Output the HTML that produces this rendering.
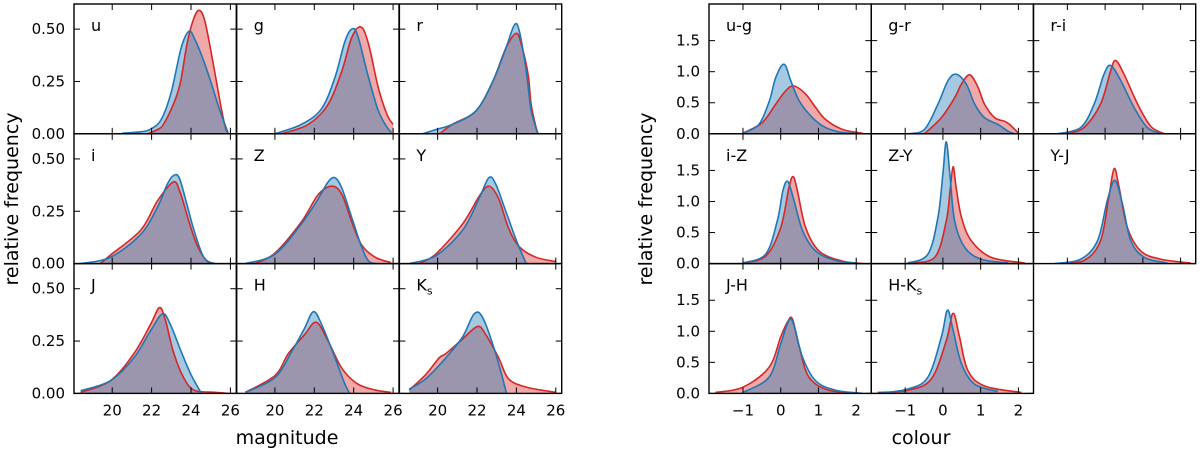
<!DOCTYPE html>
<html><head><meta charset="utf-8"><style>
html,body{margin:0;padding:0;background:#fff;}
svg{display:block;font-family:"DejaVu Sans","Liberation Sans",sans-serif;}
</style></head><body>
<svg id="fig" width="1200" height="451" viewBox="0 0 1200 451" xmlns="http://www.w3.org/2000/svg"></svg>
<script>
// ---- magnitude histograms (x = magnitude, y = relative frequency) ----
const uBlue=[[20.5,0.003],[21.5,0.01],[22,0.025],[22.5,0.07],[23,0.2],[23.5,0.41],[23.9,0.49],[24.2,0.45],[24.6,0.36],[25,0.25],[25.4,0.13],[25.7,0.05],[25.9,0]];
const uRed=[[21.8,0],[22.3,0.02],[22.6,0.045],[23.1,0.14],[23.45,0.24],[23.8,0.43],[24.1,0.54],[24.4,0.59],[24.7,0.54],[25.1,0.35],[25.5,0.14],[25.75,0.03],[25.9,0]];
const gBlue=[[20,0],[21.35,0.045],[22.37,0.12],[23.05,0.27],[23.55,0.44],[23.9,0.5],[24.2,0.47],[24.75,0.27],[25.25,0.11],[25.7,0.03],[25.93,0.005]];
const gRed=[[20.35,0],[21.7,0.045],[22.7,0.14],[23.4,0.3],[23.9,0.46],[24.37,0.51],[24.75,0.43],[25.25,0.22],[25.7,0.09],[26,0.045]];
const rBlue=[[19.24,0],[19.9,0.02],[20.75,0.045],[21.95,0.11],[22.8,0.25],[23.47,0.41],[23.9,0.52],[24.15,0.49],[24.5,0.3],[24.75,0.11],[25.1,0]];
const rRed=[[20.1,0],[20.75,0.045],[21.95,0.11],[22.8,0.25],[23.47,0.41],[24,0.48],[24.3,0.41],[24.6,0.28],[24.75,0.14],[25,0.03],[25.1,0]];
const iBlue=[[18.4,0],[19.9,0.03],[21.45,0.14],[22.3,0.27],[22.8,0.38],[23.1,0.42],[23.4,0.41],[23.8,0.28],[24.15,0.16],[24.65,0.03],[25.2,0]];
const iRed=[[19.4,0],[19.9,0.04],[21.45,0.16],[22.3,0.3],[23.1,0.39],[23.45,0.34],[23.9,0.2],[24.3,0.09],[24.8,0.013],[25.2,0]];
const zBlue=[[18.5,0],[20,0.045],[21.35,0.19],[22.2,0.31],[22.7,0.39],[23.05,0.41],[23.4,0.36],[23.9,0.22],[24.4,0.08],[24.75,0.013],[25.1,0]];
const zRed=[[19,0],[20,0.05],[21.35,0.2],[22.2,0.33],[22.9,0.37],[23.4,0.33],[23.9,0.2],[24.4,0.09],[25.1,0.03],[25.9,0.005]];
const yBlue=[[18.56,0],[19.9,0.037],[21.27,0.16],[22.1,0.31],[22.6,0.41],[22.95,0.38],[23.5,0.24],[24,0.11],[24.5,0]];
const yRed=[[19.07,0],[19.9,0.045],[21.27,0.19],[22.1,0.32],[22.6,0.37],[23.1,0.31],[23.6,0.17],[24.15,0.08],[25,0.03],[26,0.01]];
const jBlue=[[18.4,0.013],[19.9,0.06],[21.1,0.17],[21.95,0.3],[22.55,0.38],[22.95,0.33],[23.5,0.2],[24,0.09],[24.5,0.005]];
const jRed=[[18.4,0.005],[19.9,0.06],[21.1,0.19],[21.95,0.33],[22.4,0.41],[22.7,0.35],[23.1,0.2],[23.6,0.08],[24.15,0.016],[25.2,0.005],[25.9,0]];
const hBlue=[[18.5,0.005],[20,0.075],[20.85,0.2],[21.5,0.31],[21.95,0.39],[22.37,0.33],[23.05,0.17],[23.55,0.045],[23.8,0]];
const hRed=[[18.5,0.005],[20,0.085],[20.68,0.19],[21.5,0.28],[22.1,0.34],[22.7,0.25],[23.4,0.12],[24.2,0.045],[25.1,0.016],[25.9,0.005]];
const kBlue=[[18.56,0.02],[19.4,0.07],[20.42,0.17],[21.27,0.27],[21.86,0.38],[22.3,0.36],[22.95,0.19],[23.5,0]];
const kRed=[[18.56,0.016],[19.4,0.09],[20.08,0.17],[20.42,0.19],[21.27,0.26],[22.03,0.32],[22.45,0.28],[23.1,0.17],[23.6,0.07],[24.5,0.03],[26,0.005]];
// ---- colour distributions (x = colour, y = relative frequency) ----
const ugBlue=[[-1,0.01],[-0.58,0.15],[-0.3,0.53],[-0.13,0.91],[0.09,1.12],[0.27,0.85],[0.49,0.53],[0.84,0.26],[1.19,0.1],[1.64,0.02],[2.2,0]];
const ugRed=[[-1,0.01],[-0.49,0.18],[-0.13,0.48],[0.13,0.69],[0.35,0.77],[0.66,0.64],[0.93,0.42],[1.19,0.23],[1.64,0.07],[2.17,0.01]];
const grBlue=[[-0.93,0],[-0.49,0.07],[-0.13,0.48],[0.13,0.85],[0.35,0.96],[0.62,0.8],[0.84,0.48],[1.1,0.26],[1.46,0.15],[1.73,0.04],[1.9,0]];
const grRed=[[-0.49,0],[-0.04,0.26],[0.31,0.58],[0.49,0.8],[0.71,0.95],[0.93,0.75],[1.1,0.48],[1.37,0.26],[1.64,0.2],[1.77,0.15],[2,0.01]];
const riBlue=[[-1.27,0],[-0.65,0.1],[-0.29,0.48],[-0.03,0.96],[0.15,1.1],[0.42,0.85],[0.77,0.42],[1.12,0.1],[1.48,0]];
const riRed=[[-1,0],[-0.56,0.1],[-0.12,0.48],[0.15,1.02],[0.28,1.18],[0.5,0.96],[0.86,0.48],[1.21,0.12],[1.57,0]];
const izBlue=[[-1,0.01],[-0.4,0.15],[-0.09,0.69],[0.06,1.18],[0.19,1.32],[0.35,1.02],[0.58,0.53],[0.93,0.2],[1.46,0.05],[2,0.01]];
const izRed=[[-1,0.01],[-0.4,0.12],[0,0.58],[0.22,1.23],[0.33,1.4],[0.44,1.18],[0.66,0.58],[1.02,0.2],[1.64,0.04],[2.17,0]];
const zyBlue=[[-0.93,0.01],[-0.4,0.15],[-0.13,0.75],[0,1.45],[0.09,1.96],[0.19,1.4],[0.31,0.69],[0.58,0.26],[1.02,0.07],[1.73,0.01]];
const zyRed=[[-0.93,0.01],[-0.22,0.1],[0.09,0.69],[0.19,1.18],[0.27,1.56],[0.35,1.23],[0.49,0.75],[0.75,0.37],[1.28,0.1],[2.17,0.01]];
const yjBlue=[[-1.35,0],[-0.65,0.07],[-0.2,0.37],[0.06,1.02],[0.26,1.34],[0.46,0.96],[0.68,0.37],[1.04,0.1],[1.65,0.01]];
const yjRed=[[-1.27,0],[-0.56,0.05],[-0.12,0.37],[0.1,1.08],[0.24,1.53],[0.37,1.23],[0.59,0.58],[0.95,0.2],[1.48,0.07],[2.27,0.01]];
const jhBlue=[[-1,0.015],[-0.31,0.26],[0,0.8],[0.22,1.18],[0.35,1.1],[0.58,0.58],[0.93,0.2],[1.46,0.05],[2.17,0]];
const jhRed=[[-1.73,0.015],[-1,0.1],[-0.31,0.42],[0,0.91],[0.18,1.15],[0.31,1.2],[0.49,0.75],[0.75,0.26],[1.28,0.05],[2,0.01]];
const hkBlue=[[-1.73,0],[-0.93,0.07],[-0.4,0.26],[-0.04,0.91],[0.12,1.34],[0.27,1.02],[0.49,0.48],[0.84,0.15],[1.46,0.03]];
const hkRed=[[-1.73,0.015],[-0.93,0.05],[-0.31,0.23],[0.09,0.85],[0.27,1.29],[0.44,0.91],[0.66,0.37],[1.1,0.12],[2.08,0.015]];
// ---- tick labels ----
const magTicks=[20,22,24,26];
const magYTicks=[0,0.25,0.5];
const magYLabels=["0.00","0.25","0.50"];
const colTicks=[-1,0,1,2];
const colTickLabels=["\u22121","0","1","2"];
const colYTicks=[0,0.5,1,1.5];
const colYLabels=["0.0","0.5","1.0","1.5"];

const NS="http://www.w3.org/2000/svg";
const svg=document.getElementById('fig');
function mk(tag,attrs,parent){const e=document.createElementNS(NS,tag);for(const k in attrs)e.setAttribute(k,attrs[k]);(parent||svg).appendChild(e);return e;}

const magDomain=[18.06,26.3], magY=[0,0.62];
const colDomain=[-1.9,2.4], colY=[0,2.09];
const LX=[74,236.7,399.4], RX=[709,871.2,1033.4], ROWS=[4,133.8,263.6], PW=162.3, PH=129.8;

const panels=[
 {name:'u',x:LX[0],y:ROWS[0],b:uBlue,r:uRed,t:'mag',col:0,row:0},
 {name:'g',x:LX[1],y:ROWS[0],b:gBlue,r:gRed,t:'mag',col:1,row:0},
 {name:'r',x:LX[2],y:ROWS[0],b:rBlue,r:rRed,t:'mag',col:2,row:0},
 {name:'i',x:LX[0],y:ROWS[1],b:iBlue,r:iRed,t:'mag',col:0,row:1},
 {name:'Z',x:LX[1],y:ROWS[1],b:zBlue,r:zRed,t:'mag',col:1,row:1},
 {name:'Y',x:LX[2],y:ROWS[1],b:yBlue,r:yRed,t:'mag',col:2,row:1},
 {name:'J',x:LX[0],y:ROWS[2],b:jBlue,r:jRed,t:'mag',col:0,row:2},
 {name:'H',x:LX[1],y:ROWS[2],b:hBlue,r:hRed,t:'mag',col:1,row:2},
 {name:'K',sub:'s',x:LX[2],y:ROWS[2],b:kBlue,r:kRed,t:'mag',col:2,row:2},
 {name:'u-g',x:RX[0],y:ROWS[0],b:ugBlue,r:ugRed,t:'col',col:0,row:0},
 {name:'g-r',x:RX[1],y:ROWS[0],b:grBlue,r:grRed,t:'col',col:1,row:0},
 {name:'r-i',x:RX[2],y:ROWS[0],b:riBlue,r:riRed,t:'col',col:2,row:0},
 {name:'i-Z',x:RX[0],y:ROWS[1],b:izBlue,r:izRed,t:'col',col:0,row:1},
 {name:'Z-Y',x:RX[1],y:ROWS[1],b:zyBlue,r:zyRed,t:'col',col:1,row:1},
 {name:'Y-J',x:RX[2],y:ROWS[1],b:yjBlue,r:yjRed,t:'col',col:2,row:1,bottom:true},
 {name:'J-H',x:RX[0],y:ROWS[2],b:jhBlue,r:jhRed,t:'col',col:0,row:2},
 {name:'H-K',sub:'s',x:RX[1],y:ROWS[2],b:hkBlue,r:hkRed,t:'col',col:1,row:2}
];

function smoothPath(pts){
  let d='M'+pts[0][0].toFixed(2)+','+pts[0][1].toFixed(2);
  for(let i=0;i<pts.length-1;i++){
    const p0=pts[i-1]||pts[i],p1=pts[i],p2=pts[i+1],p3=pts[i+2]||p2;
    const c1=[p1[0]+(p2[0]-p0[0])/6,p1[1]+(p2[1]-p0[1])/6];
    const c2=[p2[0]-(p3[0]-p1[0])/6,p2[1]-(p3[1]-p1[1])/6];
    d+=' C'+c1[0].toFixed(2)+','+c1[1].toFixed(2)+' '+c2[0].toFixed(2)+','+c2[1].toFixed(2)+' '+p2[0].toFixed(2)+','+p2[1].toFixed(2);
  }
  return d;
}

panels.forEach((p,idx)=>{
  const dom=p.t==='mag'?magDomain:colDomain, yd=p.t==='mag'?magY:colY;
  const sx=v=>p.x+(v-dom[0])/(dom[1]-dom[0])*PW;
  const sy=v=>p.y+PH-(v-yd[0])/(yd[1]-yd[0])*PH;
  const g=mk('g',{});
  
  
  const cp=mk('clipPath',{id:'cp'+idx},g);
  mk('rect',{x:p.x,y:p.y,width:PW,height:PH},cp);
  const inner=mk('g',{'clip-path':'url(#cp'+idx+')'},g);
  const base=sy(0);
  [['red',p.r,'#d62728'],['blue',p.b,'#1f77b4']].forEach(([nm,data,c])=>{
    const pts=data.map(d=>[sx(d[0]),sy(d[1])]);
    const line=smoothPath(pts);
    const f=mk('path',{d:line+' L'+pts[pts.length-1][0].toFixed(2)+','+base+' L'+pts[0][0].toFixed(2)+','+base+' Z',fill:c,'fill-opacity':0.4,stroke:'none'},inner);
    
    
  });
  [['red',p.r,'#d62728'],['blue',p.b,'#1f77b4']].forEach(([nm,data,c])=>{
    const pts=data.map(d=>[sx(d[0]),sy(d[1])]);
    const l=mk('path',{d:smoothPath(pts),fill:'none',stroke:c,'stroke-width':1.6},inner);
    
    
  });
  // ticks
  const xt=p.t==='mag'?magTicks:colTicks, yt=p.t==='mag'?magYTicks:colYTicks;
  xt.forEach(v=>{const X=sx(v);mk('line',{x1:X,x2:X,y1:p.y+PH,y2:p.y+PH-6,stroke:'#000','stroke-width':1},g);mk('line',{x1:X,x2:X,y1:p.y,y2:p.y+6,stroke:'#000','stroke-width':1},g);});
  yt.forEach(v=>{const Y=sy(v);mk('line',{x1:p.x,x2:p.x+6,y1:Y,y2:Y,stroke:'#000','stroke-width':1},g);mk('line',{x1:p.x+PW,x2:p.x+PW-6,y1:Y,y2:Y,stroke:'#000','stroke-width':1},g);});
  const fr=mk('rect',{x:p.x,y:p.y,width:PW,height:PH,fill:'none',stroke:'#000','stroke-width':1.4},g);
  
  
  // panel label
  const lab=mk('text',{x:p.x+17,y:p.y+27,'font-size':16,fill:'#000'},g);
  
  
  lab.textContent=p.name;
  if(p.sub){const ts=mk('tspan',{'font-size':11,dy:4},lab);ts.textContent=p.sub;}
  // y tick labels
  if(p.col===0){
    const labs=p.t==='mag'?magYLabels:colYLabels;
    yt.forEach((v,k)=>{const t=mk('text',{x:p.x-9,y:sy(v)+5,'font-size':15,'text-anchor':'end',fill:'#000'},g);
      
      
      t.textContent=labs[k];});
  }
  if(p.row===2){
    const labs=p.t==='mag'?magTicks.map(String):colTickLabels;
    xt.forEach((v,k)=>{const t=mk('text',{x:sx(v),y:p.y+PH+22,'font-size':15,'text-anchor':'middle',fill:'#000'},g);
      
      
      t.textContent=labs[k];});
  }
});
</script>
<svg width="0" height="0"></svg>
<div style="position:absolute;left:0;top:0;width:1200px;height:451px;pointer-events:none;">
<svg width="1200" height="451" style="position:absolute;left:0;top:0;font-family:'DejaVu Sans','Liberation Sans',sans-serif;">
<text x="287" y="444" font-size="19" text-anchor="middle">magnitude</text>
<text x="921" y="444" font-size="19" text-anchor="middle">colour</text>
<text x="0" y="0" font-size="19" text-anchor="middle" transform="translate(18,199) rotate(-90)">relative frequency</text>
<text x="0" y="0" font-size="19" text-anchor="middle" transform="translate(652,199) rotate(-90)">relative frequency</text>
</svg>
</div>
</body></html>
